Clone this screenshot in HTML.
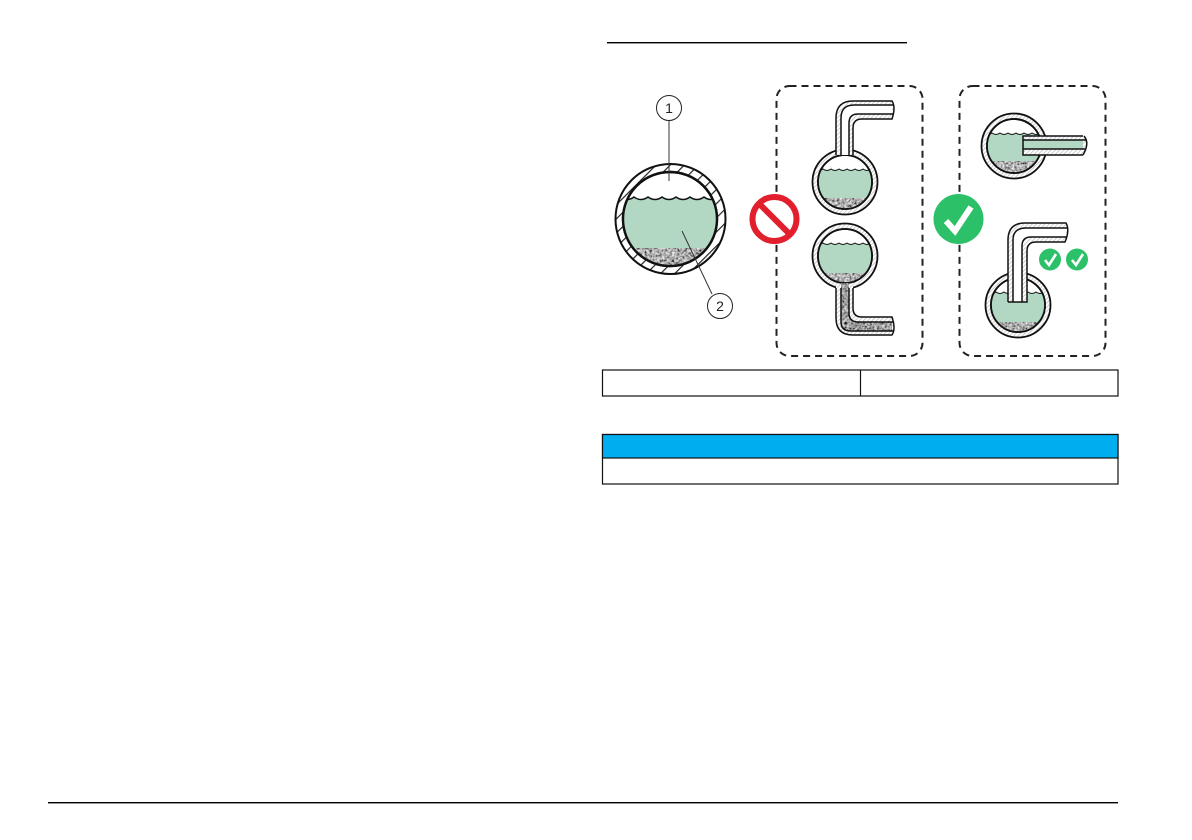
<!DOCTYPE html>
<html><head><meta charset="utf-8"><title>Diagram</title>
<style>html,body{margin:0;padding:0;background:#fff}svg{display:block}</style></head>
<body>
<svg xmlns="http://www.w3.org/2000/svg" width="1192" height="840" viewBox="0 0 1192 840">
<defs>
<pattern id="hatch" width="10" height="10" patternUnits="userSpaceOnUse" patternTransform="rotate(-45)">
<rect width="10" height="10" fill="#fff"/><rect width="10" height="1.2" fill="#222"/>
</pattern>
<pattern id="hatch2" width="3" height="3" patternUnits="userSpaceOnUse" patternTransform="rotate(-45)">
<rect width="3" height="3" fill="#fff"/><rect width="3" height=".7" fill="#bbb"/>
</pattern>
<filter id="sed" x="0" y="0" width="100%" height="100%">
<feTurbulence type="fractalNoise" baseFrequency=".4" numOctaves="3" seed="4"/>
<feColorMatrix type="matrix" values="1.5 0 0 0 -.32 1.5 0 0 0 -.32 1.5 0 0 0 -.32 0 0 0 0 1"/>
</filter>
<filter id="sedD" x="0" y="0" width="100%" height="100%">
<feTurbulence type="fractalNoise" baseFrequency=".4" numOctaves="3" seed="7"/>
<feColorMatrix type="matrix" values="1.3 0 0 0 -.3 1.3 0 0 0 -.3 1.3 0 0 0 -.3 0 0 0 0 1"/>
</filter>
<clipPath id="c0"><circle cx="670" cy="219" r="47"/></clipPath>
<clipPath id="c1"><circle cx="845" cy="182" r="27"/></clipPath>
<clipPath id="c2"><circle cx="845" cy="256" r="27"/></clipPath>
<clipPath id="c3"><circle cx="1014" cy="146" r="27"/></clipPath>
<clipPath id="c4"><circle cx="1018" cy="305" r="27"/></clipPath>
<clipPath id="cpipe"><path d="M841,283 V322 Q841,331 851,331 H892 V322 H858 Q849,322 849,313 V283 Z"/></clipPath>
</defs>
<rect width="1192" height="840" fill="#fff"/>

<!-- rules -->
<rect x="607" y="42" width="300" height="1.4" fill="#000"/>
<rect x="48" y="802" width="1070" height="1.4" fill="#000"/>

<!-- main vessel -->
<circle cx="670.5" cy="219" r="55" fill="url(#hatch)" stroke="#111" stroke-width="2"/>
<circle cx="670" cy="219" r="47" fill="#fff" stroke="#111" stroke-width="2.4"/>
<g clip-path="url(#c0)">
<path d="M620,197 q7,5 14,0 q7,5 14,0 q7,5 14,0 q7,5 14,0 q7,5 14,0 q7,5 14,0 q7,5 14,0 V270 H620 Z" fill="#b2d8c3" stroke="#111" stroke-width="1.4"/>
<rect x="620" y="248" width="100" height="20" fill="#777" filter="url(#sed)"/>
</g>
<circle cx="670" cy="219" r="47" fill="none" stroke="#111" stroke-width="2.4"/>
<path d="M669,120 V181 M682,231 L712,294" stroke="#333" stroke-width="1" fill="none"/>
<circle cx="669" cy="108" r="12.500" fill="#fff" stroke="#222" stroke-width="1"/>
<circle cx="720" cy="306" r="12.500" fill="#fff" stroke="#222" stroke-width="1"/>
<text x="669" y="113" font-family="Liberation Sans, sans-serif" font-size="14" text-anchor="middle" fill="#222">1</text>
<text x="720" y="311" font-family="Liberation Sans, sans-serif" font-size="14" text-anchor="middle" fill="#222">2</text>

<!-- dashed boxes -->
<rect x="776.5" y="86" width="146" height="270" rx="13" fill="none" stroke="#222" stroke-width="2" stroke-dasharray="7 5"/>
<rect x="959.5" y="86" width="146" height="270" rx="13" fill="none" stroke="#222" stroke-width="2" stroke-dasharray="7 5"/>

<!-- no symbol -->
<circle cx="774.5" cy="219" r="22" fill="#fff" stroke="#e21f2d" stroke-width="6"/>
<line x1="759" y1="203.5" x2="790" y2="234.5" stroke="#e21f2d" stroke-width="6"/>

<!-- check symbol -->
<circle cx="958.5" cy="219" r="25" fill="#2cc069"/>
<path d="M946,221 L955,231 L971,207" fill="none" stroke="#fff" stroke-width="6"/>

<!-- box 1 top vessel -->
<circle cx="845" cy="182" r="32.5" fill="url(#hatch2)" stroke="#111" stroke-width="1.8"/>
<circle cx="845" cy="182" r="27" fill="#fff" stroke="#111" stroke-width="1.8"/>
<g clip-path="url(#c1)">
<path d="M815,169 q4,3 8,0 q4,3 8,0 q4,3 8,0 q4,3 8,0 q4,3 8,0 q4,3 8,0 q4,3 8,0 q4,3 8,0 V212 H815 Z" fill="#b2d8c3" stroke="#111" stroke-width="1"/>
<rect x="815" y="198" width="60" height="14" fill="#777" filter="url(#sed)"/>
</g>
<circle cx="845" cy="182" r="27" fill="none" stroke="#111" stroke-width="1.8"/>
<path d="M836,155 V118 Q836,101 853,101 H893 Q896,107 892,119 H862 Q853,119 853,128 V155 Z" fill="url(#hatch2)"/>
<path d="M841,155 V118 Q841,105 854,105 H892 V114 H858 Q849,114 849,123 V155 Z" fill="#fff"/>
<path d="M836,155 V118 Q836,101 853,101 H892 Q896,107 892,119 H862 Q853,119 853,128 V155 M841,155 V118 Q841,105 854,105 H893 M849,155 V123 Q849,114 858,114 H893" fill="none" stroke="#111" stroke-width="1.5"/>

<!-- box 1 bottom vessel -->
<circle cx="845" cy="256" r="32.5" fill="url(#hatch2)" stroke="#111" stroke-width="1.8"/>
<circle cx="845" cy="256" r="27" fill="#fff" stroke="#111" stroke-width="1.8"/>
<g clip-path="url(#c2)">
<path d="M815,243 q4,3 8,0 q4,3 8,0 q4,3 8,0 q4,3 8,0 q4,3 8,0 q4,3 8,0 q4,3 8,0 q4,3 8,0 V286 H815 Z" fill="#b2d8c3" stroke="#111" stroke-width="1"/>
<rect x="815" y="273" width="60" height="14" fill="#777" filter="url(#sed)"/>
</g>
<circle cx="845" cy="256" r="27" fill="none" stroke="#111" stroke-width="1.8"/>
<path d="M836,286 V318 Q836,335 853,335 H892 Q896,329 892,317 H862 Q853,317 853,308 V286 Z" fill="url(#hatch2)"/>
<g clip-path="url(#cpipe)"><rect x="838" y="280" width="58" height="55" fill="#555" filter="url(#sedD)"/></g>
<path d="M836,288 V318 Q836,335 853,335 H892 Q896,329 892,317 H862 Q853,317 853,308 V288 M841,288 V322 Q841,331 851,331 H893 M849,288 V313 Q849,322 858,322 H893" fill="none" stroke="#111" stroke-width="1.5"/>

<!-- box 2 top vessel -->
<circle cx="1014" cy="146" r="32.5" fill="url(#hatch2)" stroke="#111" stroke-width="1.8"/>
<circle cx="1014" cy="146" r="27" fill="#fff" stroke="#111" stroke-width="1.8"/>
<g clip-path="url(#c3)">
<path d="M984,133 q4,3 8,0 q4,3 8,0 q4,3 8,0 q4,3 8,0 q4,3 8,0 q4,3 8,0 q4,3 8,0 q4,3 8,0 V176 H984 Z" fill="#b2d8c3" stroke="#111" stroke-width="1"/>
<rect x="984" y="161" width="60" height="14" fill="#777" filter="url(#sed)"/>
</g>
<circle cx="1014" cy="146" r="27" fill="none" stroke="#111" stroke-width="1.8"/>
<path d="M1023,136 H1085 Q1090,141 1083,155 H1023 Z" fill="url(#hatch2)"/>
<rect x="1023" y="140" width="60" height="9" fill="#b2d8c3"/>
<path d="M1083,136 H1023 V155 H1083 M1023,140 H1086 M1023,149 H1085 M1084,136 Q1090,143 1083,155" fill="none" stroke="#111" stroke-width="1.5"/>

<!-- box 2 bottom vessel -->
<circle cx="1018" cy="305" r="32.5" fill="url(#hatch2)" stroke="#111" stroke-width="1.8"/>
<circle cx="1018" cy="305" r="27" fill="#fff" stroke="#111" stroke-width="1.8"/>
<g clip-path="url(#c4)">
<path d="M988,292 q4,3 8,0 q4,3 8,0 q4,3 8,0 q4,3 8,0 q4,3 8,0 q4,3 8,0 q4,3 8,0 q4,3 8,0 V335 H988 Z" fill="#b2d8c3" stroke="#111" stroke-width="1"/>
<rect x="988" y="322" width="60" height="14" fill="#777" filter="url(#sed)"/>
</g>
<circle cx="1018" cy="305" r="27" fill="none" stroke="#111" stroke-width="1.8"/>
<path d="M1008,302 V240 Q1008,223 1025,223 H1066 Q1070,230 1065,242 H1036 Q1027,242 1027,251 V302 Z" fill="url(#hatch2)"/>
<path d="M1013,302 V240 Q1013,228 1026,228 H1066 V237 H1031 Q1022,237 1022,246 V302 Z" fill="#fff"/>
<path d="M1008,302 V240 Q1008,223 1025,223 H1066 Q1070,230 1065,242 H1036 Q1027,242 1027,251 V302 H1008 M1013,302 V240 Q1013,228 1026,228 H1067 M1022,302 V246 Q1022,237 1031,237 H1067" fill="none" stroke="#111" stroke-width="1.5"/>

<!-- small checks -->
<circle cx="1050" cy="259.500" r="11" fill="#2cc069"/>
<path d="M1045,260 L1049,265 L1056,254" fill="none" stroke="#fff" stroke-width="2.6"/>
<circle cx="1077" cy="259.500" r="11" fill="#2cc069"/>
<path d="M1072,260 L1076,265 L1083,254" fill="none" stroke="#fff" stroke-width="2.6"/>

<!-- tables -->
<rect x="602.500" y="370" width="515.500" height="26" fill="#fff" stroke="#111" stroke-width="1.2"/>
<line x1="860.500" y1="370" x2="860.500" y2="396" stroke="#111" stroke-width="1.2"/>
<rect x="602.500" y="434.500" width="515.500" height="49.500" fill="#fff" stroke="#111" stroke-width="1.2"/>
<rect x="602.500" y="434.500" width="515.500" height="23.500" fill="#00adef" stroke="#111" stroke-width="1.2"/>
</svg>
</body></html>
